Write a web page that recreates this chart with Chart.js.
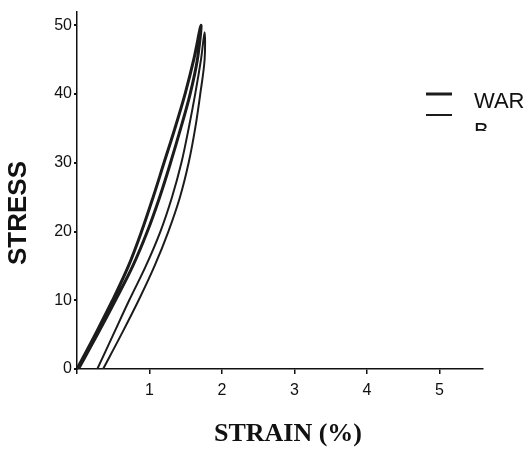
<!DOCTYPE html>
<html>
<head>
<meta charset="utf-8">
<script src="https://cdn.jsdelivr.net/npm/chart.js@4"></script>
<style>
  html, body { margin: 0; padding: 0; background: #fff; }
  canvas { display: block; }
</style>
</head>
<body>
<canvas id="graficoTensao" width="530" height="450"></canvas>
<script>
// valores (stress x strain %)
var stressLoop1 = [0, 5, 10, 15, 20, 25, 30, 35, 40, 45, 50];
var strainWarpLoad = [0, 0.25, 0.49, 0.71, 0.89, 1.05, 1.20, 1.35, 1.49, 1.61, 1.71];
var strainWarpUnload = [0.02, 0.28, 0.53, 0.77, 0.97, 1.14, 1.29, 1.43, 1.56, 1.66, 1.71];

var stressLoop2 = [0, 5, 10, 15, 20, 25, 30, 35, 40, 45, 49];
var strainBLoad = [0.28, 0.50, 0.72, 0.95, 1.15, 1.31, 1.44, 1.54, 1.63, 1.71, 1.76];
var strainBUnload = [0.36, 0.61, 0.85, 1.07, 1.26, 1.42, 1.54, 1.63, 1.70, 1.76, 1.78];

var xTicks = [0, 1, 2, 3, 4, 5];
var yTicks = [0, 10, 20, 30, 40, 50];
var seriesLabels = ["WAR", "B"];
var xTitle = "STRAIN (%)";
var yTitle = "STRESS";

function montarLaco(strainUp, strainDown, stress)
{
    var pontos = [];
    for (var i = 0; i < stress.length; i++) {
        pontos.push({ x: strainUp[i], y: stress[i] });
    }
    for (var j = stress.length - 2; j >= 0; j--) {
        pontos.push({ x: strainDown[j], y: stress[j] });
    }
    return pontos;
}

var corLinha = "#1c1c1c";

var extras = {
    id: 'extras',
    afterDraw: function (chart) {
        var ctx = chart.ctx;
        ctx.save();
        ctx.fillStyle = "#111";
        ctx.textAlign = "center";
        ctx.textBaseline = "middle";
        ctx.font = 'bold 26px "Liberation Serif"';
        ctx.fillText(xTitle, 288, 434);
        ctx.translate(19, 213);
        ctx.rotate(-Math.PI / 2);
        ctx.font = 'bold 26px "Liberation Sans"';
        ctx.fillText(yTitle, 0, 0);
        ctx.restore();

        // legenda
        var ds = chart.data.datasets;
        var linhasY = [94, 115];
        var textoY = [108, 138];
        ctx.save();
        ctx.beginPath();
        ctx.rect(0, 0, 530, 131);
        ctx.clip();
        for (var k = 0; k < ds.length; k++) {
            ctx.strokeStyle = ds[k].borderColor;
            ctx.lineWidth = ds[k].borderWidth;
            ctx.beginPath();
            ctx.moveTo(426, linhasY[k]);
            ctx.lineTo(452, linhasY[k]);
            ctx.stroke();
            ctx.fillStyle = "#111";
            ctx.font = '22px "Liberation Sans"';
            ctx.textAlign = "left";
            ctx.textBaseline = "alphabetic";
            ctx.fillText(ds[k].label, 474, textoY[k]);
        }
        ctx.restore();
    }
};

var ctx = document.getElementById("graficoTensao");
var grafico = new Chart(ctx, {
    type: 'scatter',
    data: {
        datasets: [
            {
                label: seriesLabels[0],
                data: montarLaco(strainWarpLoad, strainWarpUnload, stressLoop1),
                showLine: true,
                borderColor: corLinha,
                borderWidth: 3,
                pointRadius: 0,
                tension: 0.35,
                fill: false
            },
            {
                label: seriesLabels[1],
                data: montarLaco(strainBLoad, strainBUnload, stressLoop2),
                showLine: true,
                borderColor: corLinha,
                borderWidth: 2,
                pointRadius: 0,
                tension: 0.35,
                fill: false
            }
        ]
    },
    options: {
        responsive: false,
        animation: false,
        devicePixelRatio: 1,
        layout: { padding: { top: 7, right: 47, left: 0, bottom: 0 } },
        plugins: {
            legend: { display: false },
            tooltip: { enabled: false }
        },
        scales: {
            x: {
                type: 'linear',
                min: 0,
                max: 5.6,
                afterFit: function (s) { s.height = 81; },
                afterBuildTicks: function (s) {
                    s.ticks = xTicks.map(function (v) { return { value: v }; });
                },
                ticks: {
                    callback: function (v) { return v === 0 ? '' : v; },
                    color: "#111",
                    font: { family: "Liberation Sans", size: 16 },
                    padding: 7,
                    maxRotation: 0
                },
                grid: { drawOnChartArea: false, tickLength: 5, color: "#111", lineWidth: 1.5 },
                border: { color: "#111", width: 1.5 }
            },
            y: {
                type: 'linear',
                min: 0,
                max: 52,
                afterFit: function (s) { s.width = 77; },
                afterBuildTicks: function (s) {
                    s.ticks = yTicks.map(function (v) { return { value: v }; });
                },
                ticks: {
                    color: "#111",
                    font: { family: "Liberation Sans", size: 16 },
                    padding: 2
                },
                grid: { drawOnChartArea: false, tickLength: 3, color: "#111", lineWidth: 2 },
                border: { color: "#111", width: 1.5 }
            }
        }
    },
    plugins: [extras]
});
</script>
</body>
</html>
